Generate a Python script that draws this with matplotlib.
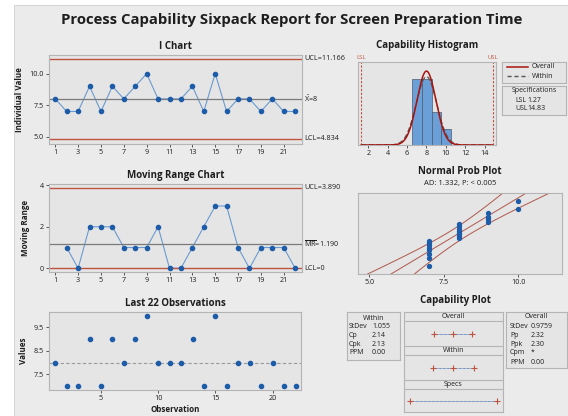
import numpy as np
from statistics import NormalDist
from matplotlib import pyplot as plt
from matplotlib import rcParams
from matplotlib.patches import Rectangle

rcParams['font.family'] = ['Open Sans', 'DejaVu Sans']
rcParams['mathtext.fontset'] = 'custom'
rcParams['mathtext.rm'] = 'Open Sans'
rcParams['mathtext.default'] = 'regular'
rcParams['axes.linewidth'] = 0.8
rcParams['xtick.major.size'] = 2
rcParams['ytick.major.size'] = 2
rcParams['xtick.major.width'] = 0.6
rcParams['ytick.major.width'] = 0.6
rcParams['xtick.major.pad'] = 1.5
rcParams['ytick.major.pad'] = 1.5

#%% data
obs = np.arange(1, 23)
values = [8, 7, 7, 9, 7, 9, 8, 9, 10, 8, 8, 8, 9, 7, 10, 7, 8, 8, 7, 8, 7, 7]
xbar = 8
ucl_i, lcl_i = 11.166, 4.834
mr_bar = 1.190
ucl_mr, lcl_mr = 3.890, 0
lsl, usl = 1.27, 14.83
sd_within, sd_overall = 1.055, 0.9759
hist_edges = [6.55, 7.55, 8.55, 9.55, 10.55]
within_stats = [('StDev', '1.055'), ('Cp', '2.14'), ('Cpk', '2.13'), ('PPM', '0.00')]
overall_stats = [('StDev', '0.9759'), ('Pp', '2.32'), ('Ppk', '2.30'), ('Cpm', '*'), ('PPM', '0.00')]
ad_text = 'AD: 1.332, P: < 0.005'

vals = np.array(values, dtype=float)
mr = np.abs(np.diff(vals))

#%% style
W, H = 568, 416
BG = '#ebebeb'
AXBG = '#e5e5e5'
FRAME = '#b4b4b4'
RED = '#c0533f'
DRED = '#a8140e'
BLUE = '#1d5ca8'
LBLUE = '#6a9ad0'
GREY = '#7a7a7a'
TXT = '#1e1e1e'
TFS = 7      # panel titles
LFS = 5.8    # axis labels
SFS = 5.0    # small text in boxes


def px(x0, y0, x1, y1):
    return [x0 / W, 1 - y1 / H, (x1 - x0) / W, (y1 - y0) / H]


def style(ax):
    ax.set_facecolor(AXBG)
    for s in ax.spines.values():
        s.set_color(FRAME)
    ax.tick_params(labelsize=5.2, colors='#404040', labelcolor=TXT)


fig = plt.figure(figsize=(W / 100, H / 100), dpi=100)
fig.patch.set_facecolor('white')
fig.patches.append(Rectangle((14 / W, 0), 1, 1 - 5 / H, transform=fig.transFigure,
                             facecolor=BG, edgecolor='#d0d0d0', lw=0.6, zorder=-10))

fig.text(292 / W, 1 - 20 / H, 'Process Capability Sixpack Report for Screen Preparation Time',
         ha='center', va='center', fontsize=10.7, fontweight='bold', color=TXT)

#%% I chart
ax1 = fig.add_axes(px(49, 55, 302, 144))
style(ax1)
ax1.plot(obs, vals, color=LBLUE, lw=0.8, zorder=2)
ax1.plot(obs, vals, 'o', color=BLUE, ms=3, zorder=3)
ax1.axhline(ucl_i, color=RED, lw=1)
ax1.axhline(lcl_i, color=RED, lw=1)
ax1.axhline(xbar, color=GREY, lw=0.9)
ax1.set_xlim(0.45, 22.6)
ax1.set_ylim(4.42, 11.48)
ax1.set_xticks(np.arange(1, 23, 2))
ax1.set_yticks([5.0, 7.5, 10.0])
ax1.set_yticklabels(['5.0', '7.5', '10.0'])
ax1.set_ylabel('Individual Value', fontsize=LFS, fontweight='bold', color=TXT, labelpad=4)
ax1.set_title('I Chart', fontsize=TFS, fontweight='bold', color=TXT, pad=4)
tr = ax1.get_yaxis_transform()
ax1.text(1.008, ucl_i, f'UCL={ucl_i:.3f}', transform=tr, fontsize=5.2, va='center', color=TXT)
ax1.text(1.008, xbar, r'$\bar{X}$=8', transform=tr, fontsize=5.2, va='center', color=TXT)
ax1.text(1.008, lcl_i, f'LCL={lcl_i:.3f}', transform=tr, fontsize=5.2, va='center', color=TXT)

#%% Moving range chart
ax2 = fig.add_axes(px(49, 184, 302, 272))
style(ax2)
ax2.plot(obs[1:], mr, color=LBLUE, lw=0.8, zorder=2)
ax2.plot(obs[1:], mr, 'o', color=BLUE, ms=3, zorder=3)
ax2.axhline(ucl_mr, color=RED, lw=1)
ax2.axhline(lcl_mr, color=RED, lw=1)
ax2.axhline(mr_bar, color=GREY, lw=0.9)
ax2.set_xlim(0.45, 22.6)
ax2.set_ylim(-0.18, 4.06)
ax2.set_xticks(np.arange(1, 23, 2))
ax2.set_yticks([0, 2, 4])
ax2.set_ylabel('Moving Range', fontsize=LFS, fontweight='bold', color=TXT, labelpad=7)
ax2.set_title('Moving Range Chart', fontsize=TFS, fontweight='bold', color=TXT, pad=4)
tr = ax2.get_yaxis_transform()
ax2.text(1.008, ucl_mr, f'UCL={ucl_mr:.3f}', transform=tr, fontsize=5.2, va='center', color=TXT)
ax2.text(1.008, mr_bar, r'$\overline{MR}$=' + f'{mr_bar:.3f}', transform=tr, fontsize=5.2,
         va='center', color=TXT)
ax2.text(1.008, lcl_mr, 'LCL=0', transform=tr, fontsize=5.2, va='center', color=TXT)

#%% Last 22 observations
ax3 = fig.add_axes(px(49, 312, 301, 390))
style(ax3)
ax3.plot(obs, vals, 'o', color=BLUE, ms=3, zorder=3)
ax3.axhline(xbar, color='#9a9a9a', lw=0.8, ls=(0, (3, 2)))
ax3.set_xlim(0.46, 22.47)
ax3.set_ylim(6.83, 10.15)
ax3.set_xticks([5, 10, 15, 20])
ax3.set_yticks([7.5, 8.5, 9.5])
ax3.set_ylabel('Values', fontsize=LFS, fontweight='bold', color=TXT, labelpad=4)
ax3.set_xlabel('Observation', fontsize=LFS, fontweight='bold', color=TXT, labelpad=2)
ax3.set_title('Last 22 Observations', fontsize=TFS, fontweight='bold', color=TXT, pad=4)

#%% Capability histogram
ax4 = fig.add_axes(px(358, 62, 496, 145))
style(ax4)
ax4.hist(vals, bins=hist_edges, color='#6b9fd8', edgecolor='#4a5a70', lw=0.5, zorder=2)
xx = np.linspace(lsl, usl, 400)
n = len(vals)
d_over = n / (sd_overall * np.sqrt(2 * np.pi)) * np.exp(-0.5 * ((xx - xbar) / sd_overall) ** 2)
d_with = n / (sd_within * np.sqrt(2 * np.pi)) * np.exp(-0.5 * ((xx - xbar) / sd_within) ** 2)
ax4.plot(xx, d_with, color='#555555', lw=0.9, ls=(0, (4, 2)), zorder=3)
ax4.plot(xx, d_over, color=DRED, lw=1.1, zorder=4)
ax4.axvline(lsl, color=RED, lw=0.8, ls=(0, (2, 1.5)))
ax4.axvline(usl, color=RED, lw=0.8, ls=(0, (2, 1.5)))
ax4.set_xlim(0.94, 15.17)
ax4.set_ylim(0, 10.1)
ax4.set_xticks(np.arange(2, 15, 2))
ax4.set_yticks([])
ax4.set_title('Capability Histogram', fontsize=TFS, fontweight='bold', color=TXT, pad=10)
trx = ax4.get_xaxis_transform()
ax4.text(lsl, 1.03, 'LSL', transform=trx, fontsize=4.3, color=RED, ha='center', va='bottom')
ax4.text(usl, 1.03, 'USL', transform=trx, fontsize=4.3, color=RED, ha='center', va='bottom')

# legend box
axl = fig.add_axes(px(502, 62, 566, 83))
style(axl)
axl.set_xticks([]); axl.set_yticks([])
axl.set_xlim(0, 64); axl.set_ylim(21, 0)
axl.plot([4.5, 26], [4.7, 4.7], color=DRED, lw=1.1)
axl.plot([4.5, 26], [14, 14], color='#555555', lw=1.0, ls=(0, (3, 2)))
axl.text(29.5, 4.7, 'Overall', fontsize=SFS, va='center', color=TXT)
axl.text(29.5, 14, 'Within', fontsize=SFS, va='center', color=TXT)

# specifications box
axs = fig.add_axes(px(502, 86, 566, 115))
style(axs)
axs.set_xticks([]); axs.set_yticks([])
axs.set_xlim(0, 64); axs.set_ylim(29, 0)
axs.text(32, 4.5, 'Specifications', fontsize=SFS, ha='center', va='center', color=TXT)
axs.text(13, 14, 'LSL', fontsize=SFS, va='center', color=TXT)
axs.text(25.5, 14, f'{lsl:.2f}', fontsize=SFS, va='center', color=TXT)
axs.text(13, 22.5, 'USL', fontsize=SFS, va='center', color=TXT)
axs.text(25.5, 22.5, f'{usl:.2f}', fontsize=SFS, va='center', color=TXT)

#%% Normal probability plot
ax5 = fig.add_axes(px(358, 193, 562, 274))
style(ax5)
nd = NormalDist()
srt = np.sort(vals)
zpos = np.array([nd.inv_cdf((i - 0.3) / (n + 0.4)) for i in range(1, n + 1)])
zl = np.linspace(-2.6, 2.6, 100)
fit = xbar + sd_overall * zl
half = 1.96 * sd_overall * np.sqrt((1 + zl ** 2 / 2) / n)
for xline in (fit, fit - half, fit + half):
    ax5.plot(xline, zl, color='#b0564a', lw=0.7, zorder=2)
ax5.plot(srt, zpos, 'o', color=BLUE, ms=2.8, zorder=3)
ax5.set_xlim(4.62, 11.47)
ax5.set_ylim(nd.inv_cdf(0.01), nd.inv_cdf(0.99))
ax5.set_xticks([5.0, 7.5, 10.0])
ax5.set_xticklabels(['5.0', '7.5', '10.0'])
ax5.set_yticks([])
fig.text(460 / W, 1 - 172 / H, 'Normal Prob Plot', ha='center', va='center',
         fontsize=TFS, fontweight='bold', color=TXT)
fig.text(460 / W, 1 - 184 / H, ad_text, ha='center', va='center', fontsize=5.5, color=TXT)

#%% Capability plot
fig.text(455 / W, 1 - 300 / H, 'Capability Plot', ha='center', va='center',
         fontsize=TFS, fontweight='bold', color=TXT)

axc = fig.add_axes(px(404, 312, 503, 412))
style(axc)
axc.set_xticks([]); axc.set_yticks([])
axc.set_xlim(lsl - 6 / 6.42, lsl - 6 / 6.42 + 99 / 6.42)
axc.set_ylim(100, 0)
for yy in (9, 34, 43, 68, 77):
    axc.axhline(yy, color=FRAME, lw=0.8)
for yc, label in ((4.5, 'Overall'), (38.5, 'Within'), (72.5, 'Specs')):
    axc.text(0.5, yc, label, transform=axc.get_yaxis_transform(), fontsize=SFS,
             ha='center', va='center', color=TXT)
rows = [(21.5, xbar - 3 * sd_overall, xbar + 3 * sd_overall, True),
        (55.5, xbar - 3 * sd_within, xbar + 3 * sd_within, True),
        (88.5, lsl, usl, False)]
for yc, lo, hi, mid in rows:
    axc.plot([lo, hi], [yc, yc], color='#3d6fb5', lw=0.6, ls=(0, (1, 0.6)))
    pts = [lo, xbar, hi] if mid else [lo, hi]
    axc.plot(pts, [yc] * len(pts), '+', color=RED, ms=5, mew=0.8)


def stat_box(rect, title, rows, xl, xv, ys):
    ax = fig.add_axes(px(*rect))
    style(ax)
    ax.set_xticks([]); ax.set_yticks([])
    w = rect[2] - rect[0]
    h = rect[3] - rect[1]
    ax.set_xlim(0, w); ax.set_ylim(h, 0)
    ax.text(w / 2, ys[0], title, fontsize=SFS, ha='center', va='center', color=TXT)
    for (lab, v), yy in zip(rows, ys[1:]):
        ax.text(xl, yy, lab, fontsize=SFS, va='center', color=TXT)
        ax.text(xv, yy, v, fontsize=SFS, va='center', color=TXT)


stat_box((347, 312, 400, 360), 'Within', within_stats, 2, 25, [6, 14.7, 23.7, 32, 40.7])
stat_box((506, 312, 567, 368), 'Overall', overall_stats, 4, 24.5, [5, 14.7, 23.7, 32, 40.3, 50.3])

fig.savefig('out.png', dpi=100, facecolor=fig.get_facecolor())
